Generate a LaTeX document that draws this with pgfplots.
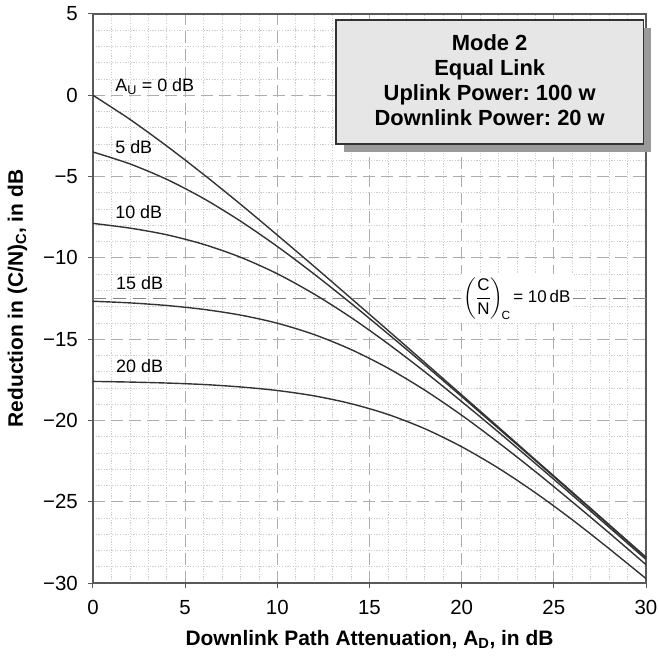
\documentclass[border=0pt]{standalone}
\usepackage{fontspec}
\setmainfont{Liberation Sans}
\usepackage{amsmath}
\usepackage{pgfplots}
\pgfplotsset{compat=1.18}
\frenchspacing
\definecolor{curvec}{HTML}{333333}
\definecolor{refline}{HTML}{858585}
\definecolor{boxfill}{HTML}{E6E6E6}
\definecolor{boxedge}{HTML}{333333}
\definecolor{shadow}{HTML}{9A9A9A}
\begin{document}
\begin{tikzpicture}
\useasboundingbox (-93bp,-74bp) rectangle (566bp,583bp);
\begin{axis}[
  at={(0,0)}, anchor=south west,
  scale only axis, width=553bp, height=569bp,
  xmin=0, xmax=30, ymin=-30, ymax=5,
  xtick={0,5,...,30}, ytick={-30,-25,...,5},
  xticklabels={0,5,10,15,20,25,30},
  yticklabels={−30,−25,−20,−15,−10,−5,0,5},
  minor tick num=4,
  grid=both,
  major grid style={color=black!32, dash pattern=on 12bp off 6bp, line width=0.9bp},
  minor grid style={color=black!20, dash pattern=on 1.2bp off 1.5bp, line width=0.7bp},
  axis line style={color=black!65, line width=1.3bp},
  major tick style={color=black!65, line width=1bp},
  major tick length=5bp, minor tick length=0pt,
  tick align=outside, xtick pos=bottom, ytick pos=left,
  ticklabel style={font=\fontsize{20.5}{24}\selectfont, inner sep=0pt},
  yticklabel style={anchor=east, xshift=-10bp},
  xticklabel style={anchor=north, yshift=-12bp},
  xlabel={\bfseries Downlink Path Attenuation, A\textsubscript{D}, in dB},
  ylabel={\bfseries Reduction in (C/N)\textsubscript{C}, in dB},
  label style={font=\fontsize{21}{25}\selectfont},
  xlabel style={at={(axis description cs:0.5,-0.109)}, anchor=base},
  ylabel style={at={(axis description cs:-0.1365,0.5)}, anchor=center},
  clip=false,
]
% reference line (C/N)_C = 10 dB
\addplot[refline, line width=1.6bp, dash pattern=on 13bp off 7bp] coordinates {(0,-12.5) (30,-12.5)};

% A_U = 0 dB
\addplot[curvec, line width=1.4bp, smooth] coordinates {
(0,0.00) (2,-1.48) (4,-3.12) (6,-4.87) (8,-6.70) (10,-8.60) (12,-10.53) (14,-12.49)
(16,-14.46) (18,-16.44) (20,-18.43) (22,-20.42) (24,-22.42) (26,-24.41) (28,-26.41) (30,-28.41)};
% A_U = 5 dB
\addplot[curvec, line width=1.4bp, smooth] coordinates {
(0,-3.49) (2,-4.22) (4,-5.17) (6,-6.35) (8,-7.74) (10,-9.30) (12,-11.00) (14,-12.80)
(16,-14.67) (18,-16.58) (20,-18.53) (22,-20.50) (24,-22.47) (26,-24.46) (28,-26.45) (30,-28.44)};
% A_U = 10 dB
\addplot[curvec, line width=1.4bp, smooth] coordinates {
(0,-7.88) (2,-8.17) (4,-8.58) (6,-9.17) (8,-9.96) (10,-10.98) (12,-12.23) (14,-13.67)
(16,-15.28) (18,-17.01) (20,-18.84) (22,-20.72) (24,-22.65) (26,-24.60) (28,-26.57) (30,-28.55)};
% A_U = 15 dB
\addplot[curvec, line width=1.4bp, smooth] coordinates {
(0,-12.67) (2,-12.77) (4,-12.93) (6,-13.17) (8,-13.52) (10,-14.02) (12,-14.72) (14,-15.64)
(16,-16.78) (18,-18.14) (20,-19.68) (22,-21.37) (24,-23.15) (26,-25.01) (28,-26.92) (30,-28.87)};
% A_U = 20 dB
\addplot[curvec, line width=1.4bp, smooth] coordinates {
(0,-17.60) (2,-17.64) (4,-17.70) (6,-17.79) (8,-17.94) (10,-18.16) (12,-18.49) (14,-18.97)
(16,-19.63) (18,-20.51) (20,-21.62) (22,-22.94) (24,-24.45) (26,-26.11) (28,-27.89) (30,-29.73)};

% curve labels
\begin{scope}[every node/.style={font=\fontsize{18}{21}\selectfont, inner sep=0pt, anchor=base west}]
\node at (axis cs:1.2,0.22) {A\textsubscript{U} = 0 dB};
\node at (axis cs:1.2,-3.57) {5 dB};
\node at (axis cs:1.2,-7.57) {10 dB};
\node at (axis cs:1.25,-11.93) {15 dB};
\node at (axis cs:1.25,-17.06) {20 dB};
\end{scope}

% (C/N)_C label
\node[fill=white, inner sep=3bp, font=\fontsize{17}{20}\selectfont] at (axis cs:23.0,-12.5)
  {$\left(\dfrac{\text{C}}{\text{N}}\right)_{\!\text{C}}$\,= 10\,dB};

% info box with shadow
\fill[shadow] (axis cs:13.61,4.14) rectangle (axis cs:30.29,-3.49);
\filldraw[fill=boxfill, draw=boxedge, line width=1.6bp] (axis cs:13.18,4.63) rectangle (axis cs:29.86,-3.0);
\node[align=center, font=\bfseries\fontsize{22}{25}\selectfont] at (axis cs:21.52,0.94)
  {Mode 2\\Equal Link\\Uplink Power: 100 w\\Downlink Power: 20 w};
\end{axis}
\end{tikzpicture}
\end{document}
